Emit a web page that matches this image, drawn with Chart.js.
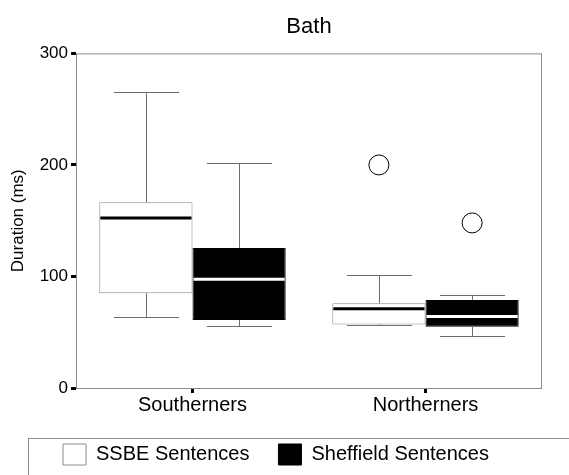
<!DOCTYPE html>
<html>
<head>
<meta charset="utf-8">
<script src="https://cdn.jsdelivr.net/npm/chart.js@4/dist/chart.umd.min.js"></script>
<style>
  html, body { margin: 0; padding: 0; background: #fff; }
  #wrap { width: 569px; height: 475px; }
</style>
</head>
<body>
<div id="wrap"><canvas id="bathChart" width="569" height="475"></canvas></div>
<script>
// data (ms)
const categories = ['Southerners', 'Northerners'];
const yTicks = [0, 100, 200, 300];

const ssbeMin = [64, 56.5];
const ssbeQ1 = [85, 57];
const ssbeMedian = [152.5, 71];
const ssbeQ3 = [166.5, 76];
const ssbeMax = [265, 101];
const ssbeOutliers = [[], [200]];

const sheffMin = [56, 46.5];
const sheffQ1 = [61, 55];
const sheffMedian = [97.5, 64];
const sheffQ3 = [125.5, 79];
const sheffMax = [202, 83.5];
const sheffOutliers = [[], [148]];

const lineGrey = '#8c8c8c';

// whiskers, medians and outliers are drawn on top of the floating bars
const boxExtras = {
    id: 'boxExtras',
    beforeDatasetsDraw(chart) {
        const a = chart.chartArea, ctx = chart.ctx;
        ctx.save();
        ctx.strokeStyle = lineGrey;
        ctx.lineWidth = 1;
        ctx.strokeRect(a.left + 0.5, a.top + 0.5, a.right - a.left - 1, a.bottom - a.top);
        ctx.restore();
    },
    afterDatasetsDraw(chart) {
        const ctx = chart.ctx, y = chart.scales.y;
        const stats = [
            {min: ssbeMin, q1: ssbeQ1, med: ssbeMedian, q3: ssbeQ3, max: ssbeMax, out: ssbeOutliers, medColor: '#000'},
            {min: sheffMin, q1: sheffQ1, med: sheffMedian, q3: sheffQ3, max: sheffMax, out: sheffOutliers, medColor: '#fff'}
        ];
        stats.forEach((s, d) => {
            const meta = chart.getDatasetMeta(d);
            meta.data.forEach((bar, i) => {
                const x = Math.round(bar.x) + 0.5, half = bar.width / 2, cap = bar.width * 0.35;
                const yMax = Math.round(y.getPixelForValue(s.max[i])) + 0.5;
                const yMin = Math.round(y.getPixelForValue(s.min[i])) + 0.5;
                ctx.save();
                // whiskers and caps
                ctx.strokeStyle = '#6e6e6e';
                ctx.lineWidth = 1;
                ctx.beginPath();
                ctx.moveTo(x, y.getPixelForValue(s.q3[i]));
                ctx.lineTo(x, yMax);
                ctx.moveTo(x, y.getPixelForValue(s.q1[i]));
                ctx.lineTo(x, yMin);
                ctx.moveTo(x - cap, yMax);
                ctx.lineTo(x + cap, yMax);
                ctx.moveTo(x - cap, yMin);
                ctx.lineTo(x + cap, yMin);
                ctx.stroke();

                // median
                ctx.strokeStyle = s.medColor;
                ctx.lineWidth = 3;
                ctx.beginPath();
                ctx.moveTo(bar.x - half + 1, y.getPixelForValue(s.med[i]));
                ctx.lineTo(bar.x + half - 1, y.getPixelForValue(s.med[i]));
                ctx.stroke();

                // outliers
                ctx.strokeStyle = '#000';
                ctx.lineWidth = 1;
                s.out[i].forEach(v => {
                    ctx.beginPath();
                    ctx.arc(bar.x, y.getPixelForValue(v), 10, 0, Math.PI * 2);
                    ctx.stroke();
                });
                ctx.restore();
            });
        });
    },
    afterDraw(chart) {
        // frame round the legend, running off the page
        const hb = chart.legend.legendHitBoxes[0];
        if (!hb) return;
        const ctx = chart.ctx;
        ctx.save();
        ctx.strokeStyle = lineGrey;
        ctx.lineWidth = 1;
        ctx.strokeRect(28.5, hb.top - 5.5, chart.width + 20, 80);
        ctx.restore();
    }
};

Chart.defaults.font.family = "'Liberation Sans', Arial, Helvetica, sans-serif";
Chart.defaults.color = '#000';

const ctx = document.getElementById('bathChart').getContext('2d');
const bathChart = new Chart(ctx, {
    type: 'bar',
    data: {
        labels: categories,
        datasets: [
            {
                label: 'SSBE Sentences',
                data: categories.map((c, i) => [ssbeQ1[i], ssbeQ3[i]]),
                backgroundColor: '#fff',
                borderColor: lineGrey,
                borderWidth: 1,
                borderSkipped: false,
                categoryPercentage: 0.8,
                barPercentage: 1.0
            },
            {
                label: 'Sheffield Sentences',
                data: categories.map((c, i) => [sheffQ1[i], sheffQ3[i]]),
                backgroundColor: '#000',
                borderColor: '#000',
                borderWidth: 1,
                borderSkipped: false,
                categoryPercentage: 0.8,
                barPercentage: 1.0
            }
        ]
    },
    options: {
        responsive: false,
        animation: false,
        layout: { padding: { left: 10, right: 27, top: 0, bottom: 0 } },
        plugins: {
            title: {
                display: true,
                text: 'Bath',
                fullSize: false,
                font: { size: 22, weight: 'normal' },
                padding: { top: 14, bottom: 13 }
            },
            legend: {
                position: 'bottom',
                labels: {
                    boxWidth: 23,
                    boxHeight: 21,
                    padding: 29,
                    font: { size: 20 }
                }
            },
            tooltip: { enabled: false }
        },
        scales: {
            x: {
                grid: { display: true, drawOnChartArea: false, offset: false, tickLength: 5, tickWidth: 3, tickColor: '#000' },
                border: { display: false },
                ticks: { font: { size: 20 }, padding: 0 },
                afterFit: s => { s.height = 27; }
            },
            y: {
                min: 0,
                max: 300,
                afterBuildTicks: s => { s.ticks = yTicks.map(v => ({ value: v })); },
                grid: { display: true, drawOnChartArea: false, tickLength: 5, tickWidth: 3, tickColor: '#000' },
                border: { display: false },
                ticks: { font: { size: 17 }, padding: 3 },
                title: {
                    display: true,
                    text: 'Duration (ms)',
                    font: { size: 17, lineHeight: 1.0 },
                    padding: { top: 0, bottom: 0 }
                },
                afterFit: s => { s.width = 66; }
            }
        }
    },
    plugins: [boxExtras]
});
</script>
</body>
</html>
